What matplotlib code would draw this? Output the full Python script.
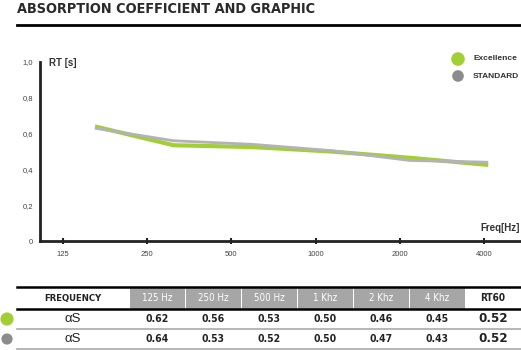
import matplotlib.pyplot as plt
import numpy as np

plt.rcParams['font.family'] = ['Liberation Sans', 'DejaVu Sans']
COND = dict(family='DejaVu Sans', stretch='condensed')

freq_labels = ['125', '250', '500', '1000', '2000', '4000']
excellence_rt = [0.64, 0.535, 0.525, 0.50, 0.465, 0.425]
standard_rt = [0.63, 0.56, 0.54, 0.505, 0.45, 0.44]
y_ticks = [0, 0.2, 0.4, 0.6, 0.8, 1.0]
y_labels = ['0', '0,2', '0,4', '0,6', '0,8', '1,0']

table_cols = ['125 Hz', '250 Hz', '500 Hz', '1 Khz', '2 Khz', '4 Khz']
excellence_as = ['0.62', '0.56', '0.53', '0.50', '0.46', '0.45']
standard_as = ['0.64', '0.53', '0.52', '0.50', '0.47', '0.43']
excellence_rt60 = '0.52'
standard_rt60 = '0.52'

green = '#a2cf33'
grey_line = '#b2b2b8'
grey_dot = '#8c8c8c'
dark = '#222222'

W, H = 521, 350
fig = plt.figure(figsize=(W / 100, H / 100), dpi=100)

# overlay in pixel coords
ov = fig.add_axes([0, 0, 1, 1])
ov.set_xlim(0, W)
ov.set_ylim(H, 0)
ov.axis('off')

# chart axes
x0, x1, ytop, ybot = 40, 521, 62, 241
ax = fig.add_axes([x0 / W, (H - ybot) / H, (x1 - x0) / W, (ybot - ytop) / H])
step = (484 - 63) / 5
ax.set_xlim(-(63 - x0) / step, 5 + (x1 - 484) / step)
ax.set_ylim(0, 1.0)
for s in ['top', 'right']:
    ax.spines[s].set_visible(False)
for s in ['left', 'bottom']:
    ax.spines[s].set_color(dark)
    ax.spines[s].set_linewidth(2)
ax.set_xticks(range(len(freq_labels)))
ax.set_xticklabels(freq_labels)
ax.set_yticks(y_ticks)
ax.set_yticklabels(y_labels)
ax.tick_params(axis='x', direction='inout', length=5, width=1.5, color=dark,
               labelsize=5.5, labelcolor='#444444', pad=5)
ax.tick_params(axis='y', length=0, labelsize=5.5, labelcolor='#444444', pad=5)
ax.patch.set_alpha(0)

xs = np.linspace(0.38, 5.05, len(freq_labels))
ax.plot(xs, excellence_rt, color=green, lw=3.0, solid_capstyle='butt', clip_on=False)
ax.plot(xs, standard_rt, color=grey_line, lw=2.0, solid_capstyle='butt', clip_on=False)

# title and rule
ov.text(17, 9, 'ABSORPTION COEFFICIENT AND GRAPHIC', weight='bold',
        fontsize=10.4, color='#2a2a2a', va='center', ha='left', **COND)
ov.plot([17, 521], [24.5, 24.5], color='black', lw=2)

ov.text(49, 63, 'RT [s]', weight='bold', fontsize=7, color='#333333', va='center')
ov.text(520, 228, 'Freq[Hz]', weight='bold', fontsize=7, color='#333333', va='center', ha='right')

# legend
ov.scatter([458], [59], s=95, color=green, edgecolor='none')
ov.scatter([458], [76], s=70, color=grey_dot, edgecolor='none')
ov.text(473, 59, 'Excellence', weight='bold', fontsize=6, color='#333333', va='center')
ov.text(473, 76, 'STANDARD', weight='bold', fontsize=6, color='#333333', va='center')

# table
edges = [129, 185, 241, 297, 353, 409, 465]
top, hdr, r1, r2 = 287, 309, 329, 349
for i, lab in enumerate(table_cols):
    ov.fill_between([edges[i] + 0.5, edges[i + 1] - 0.5], top, hdr, color='#a6a6a6', lw=0)
    cx = (edges[i] + edges[i + 1]) / 2
    ov.text(cx, (top + hdr) / 2, lab, color='white', fontsize=7,
            ha='center', va='center', **COND)
    ov.text(cx, (hdr + r1) / 2, excellence_as[i], weight='bold',
            fontsize=7.5, ha='center', va='center', color='#222222', **COND)
    ov.text(cx, (r1 + r2) / 2, standard_as[i], weight='bold',
            fontsize=7.5, ha='center', va='center', color='#222222', **COND)
ov.text(73, (top + hdr) / 2, 'FREQUENCY', weight='bold', fontsize=6.8,
        ha='center', va='center', color='#222222', **COND)
ov.text(493, (top + hdr) / 2, 'RT60', weight='bold', fontsize=7.2,
        ha='center', va='center', color='#222222', **COND)
ov.text(73, (hdr + r1) / 2, 'αS', fontsize=9.5, ha='center', va='center', color='#222222')
ov.text(73, (r1 + r2) / 2, 'αS', fontsize=9.5, ha='center', va='center', color='#222222')
ov.text(493, (hdr + r1) / 2, excellence_rt60, weight='bold', fontsize=9.5,
        ha='center', va='center', color='#222222', **COND)
ov.text(493, (r1 + r2) / 2, standard_rt60, weight='bold', fontsize=9.5,
        ha='center', va='center', color='#222222', **COND)
ov.plot([17, 521], [top, top], color='black', lw=1.8)
ov.plot([17, 521], [hdr, hdr], color='black', lw=1.8)
ov.plot([17, 521], [r1, r1], color='#aaaaaa', lw=1.2)
ov.plot([17, 521], [r2 - 0.5, r2 - 0.5], color='#aaaaaa', lw=1.2)
ov.scatter([7], [(hdr + r1) / 2], s=90, color=green, edgecolor='none')
ov.scatter([7], [(r1 + r2) / 2], s=65, color=grey_dot, edgecolor='none')

fig.savefig('out.png', dpi=100)
